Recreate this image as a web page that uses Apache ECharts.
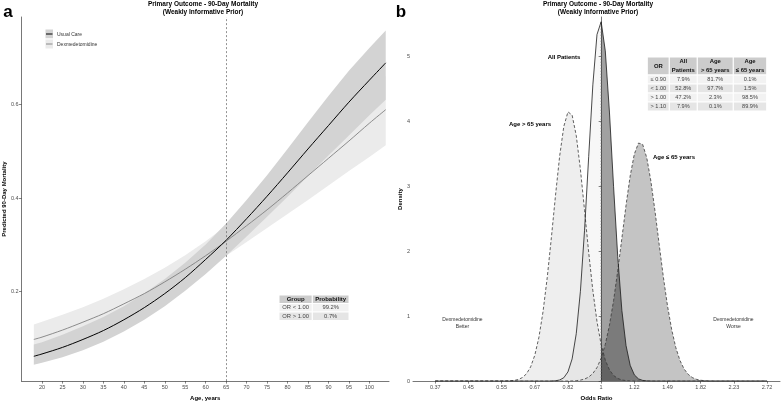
<!DOCTYPE html>
<html><head><meta charset="utf-8">
<script src="https://cdn.jsdelivr.net/npm/echarts@6/dist/echarts.min.js"></script>
<style>html,body{margin:0;padding:0;background:#fff}#c{width:784px;height:406px}</style>
</head><body><div id="c"></div>
<script>
// ---------- Panel a data ----------
const ages = [18,20,25,30,35,40,45,50,55,60,65,70,75,80,85,90,95,100,104];
const usualCare      = [0.062,0.067,0.081,0.098,0.117,0.140,0.166,0.196,0.230,0.269,0.310,0.356,0.404,0.454,0.505,0.555,0.605,0.652,0.689];
const usualCareLower = [0.044,0.048,0.060,0.075,0.093,0.115,0.140,0.169,0.202,0.238,0.277,0.318,0.360,0.403,0.447,0.491,0.534,0.577,0.610];
const usualCareUpper = [0.087,0.092,0.108,0.126,0.146,0.169,0.196,0.227,0.262,0.301,0.346,0.396,0.449,0.505,0.562,0.618,0.672,0.721,0.758];
const dexmed         = [0.098,0.103,0.118,0.135,0.153,0.174,0.196,0.221,0.248,0.277,0.308,0.341,0.375,0.411,0.448,0.485,0.522,0.560,0.589];
const dexmedLower    = [0.073,0.078,0.092,0.108,0.126,0.146,0.169,0.193,0.220,0.248,0.277,0.306,0.336,0.366,0.396,0.427,0.458,0.488,0.513];
const dexmedUpper    = [0.130,0.136,0.151,0.167,0.185,0.205,0.227,0.251,0.278,0.308,0.341,0.377,0.416,0.457,0.500,0.543,0.587,0.629,0.661];
const ageTicks = [20,25,30,35,40,45,50,55,60,65,70,75,80,85,90,95,100];
const mortalityTicks = [0.2,0.4,0.6];
const cutoffAge = 65;
const legendNames = ['Usual Care','Dexmedetomidine'];
const probHeader = ['Group','Probability'];
const probRows = [['OR < 1.00','99.2%'],['OR > 1.00','0.7%']];

// ---------- Panel b data (x = log odds ratio) ----------
const logOddsRatio = [-1,-0.6,-0.575,-0.55,-0.525,-0.5,-0.475,-0.45,-0.425,-0.4,-0.375,-0.35,-0.325,-0.3,-0.275,-0.25,-0.225,-0.2,-0.175,-0.15,-0.125,-0.1,-0.075,-0.05,-0.025,0,0.025,0.05,0.075,0.1,0.125,0.15,0.175,0.2,0.225,0.25,0.275,0.3,0.325,0.35,0.375,0.4,0.425,0.45,0.475,0.5,0.525,0.55,0.575,0.6,0.625,0.65,0.675,0.7,1];
const densityAll = [0, 0,0,0,0,0,0,0,0,0,0,0,0,
  0.001,0.005,0.017,0.052,0.142,0.341,0.729,1.381,2.321,3.454,4.557,5.330,5.527,5.080,4.138,2.989,1.914,1.085,0.546,0.243,0.096,0.034,0.011,0.003,0.001,
  0,0,0,0,0,0,0,0,0,0,0,0,0,0,0,0, 0];
const densityOlder = [0,
  0.001,0.002,0.004,0.010,0.024,0.054,0.112,0.219,0.397,0.675,1.073,1.591,2.206,2.858,3.462,3.917,4.141,4.091,3.776,3.257,2.626,1.977,1.392,0.915,0.562,0.323,0.173,0.087,0.041,0.018,0.007,0.003,0.001,
  0,0,0,0,0,0,0,0,0,0,0,0,0,0,0,0,0,0,0,0, 0];
const densityYounger = [0,
  0,0,0,0,0,0,0,0,0,0,0,0,0,0,0,0,
  0.001,0.003,0.007,0.015,0.031,0.062,0.117,0.208,0.352,0.565,0.859,1.240,1.696,2.199,2.705,3.156,3.491,3.661,3.642,3.435,3.073,2.607,2.097,1.600,1.157,0.794,0.516,0.318,0.186,0.103,0.054,0.027,0.013,0.006,0.002,0.001,0,
  0];
const orTickValues = [-1,-0.8,-0.6,-0.4,-0.2,0,0.2,0.4,0.6,0.8,1];
const orTickLabels = ['0.37','0.45','0.55','0.67','0.82','1','1.22','1.49','1.82','2.23','2.72'];
const densityTicks = [0,1,2,3,4,5];
const orTableHeader = ['OR','All\nPatients','Age\n> 65 years','Age\n\u2264 65 years'];
const orTableRows = [
  ['\u2264 0.90','7.9%','81.7%','0.1%'],
  ['< 1.00','52.8%','97.7%','1.5%'],
  ['> 1.00','47.2%','2.3%','98.5%'],
  ['> 1.10','7.9%','0.1%','89.9%']
];

// ---------- chart ----------
const FONT = '"Liberation Sans", Arial, sans-serif';
const chart = echarts.init(document.getElementById('c'), null, {renderer:'canvas'});

function band(lower, upper, color){
  return {
    type:'custom', xAxisIndex:0, yAxisIndex:0, silent:true,
    data: ages.map((a,i)=>[a, lower[i], upper[i]]),
    encode:{x:0, y:[1,2]},
    renderItem:(params, api)=>{
      if (params.dataIndex !== 0) return null;
      const pts = [];
      for (let i=0;i<ages.length;i++) pts.push(api.coord([ages[i], upper[i]]));
      for (let i=ages.length-1;i>=0;i--) pts.push(api.coord([ages[i], lower[i]]));
      return {type:'polygon', shape:{points:pts}, style:{fill:color}};
    }
  };
}
function pairs(arr, pred){
  return logOddsRatio.map((x,i)=>[x,arr[i]]).filter(p=>pred(p[0]));
}
function fill(arr, left, alpha){
  return {type:'line', xAxisIndex:1, yAxisIndex:1, silent:true, showSymbol:false, symbol:'none',
    data: pairs(arr, left ? (x=>x<=0) : (x=>x>=0)),
    lineStyle:{width:0}, areaStyle:{color:'rgba(0,0,0,'+alpha+')', opacity:1}};
}
function outline(arr, color, type){
  return {type:'line', xAxisIndex:1, yAxisIndex:1, silent:true, showSymbol:false, symbol:'none',
    data: pairs(arr, ()=>true), lineStyle:{width:0.8, color:color, type:type}};
}
function txt(x,y,text,size,bold,extra){
  return Object.assign({type:'text', x:x, y:y, silent:true, style:Object.assign({
    text:text, fill:'#000', fontSize:size, fontWeight:bold?'bold':'normal', fontFamily:FONT,
    align:'center', verticalAlign:'middle', lineHeight:size*1.5}, extra||{})});
}
function rect(x,y,w,h,color){
  return {type:'rect', silent:true, shape:{x:x,y:y,width:w,height:h}, style:{fill:color, stroke:'#fff', lineWidth:1}};
}

const axisCommon = {
  splitLine:{show:false},
  axisLine:{show:true, lineStyle:{color:'#555', width:0.8}},
  axisTick:{show:true, length:2.5, lineStyle:{color:'#333', width:0.6}},
};
const labelStyle = {color:'#4d4d4d', fontSize:5.5, fontFamily:FONT, margin:3};

const graphics = [];
// titles & panel letters
graphics.push(txt(203,4,'Primary Outcome - 90-Day Mortality',6.5,true));
graphics.push(txt(203,12.5,'(Weakly Informative Prior)',6.5,true));
graphics.push(txt(598,4,'Primary Outcome - 90-Day Mortality',6.5,true));
graphics.push(txt(598,12.5,'(Weakly Informative Prior)',6.5,true));
graphics.push(txt(8,12,'a',17,true));
graphics.push(txt(401,12,'b',17,true));
// legend
graphics.push(rect(45,29,8.5,10,'#d3d3d3'));
graphics.push(rect(45,39,8.5,10,'#ebebeb'));
graphics.push({type:'line', silent:true, shape:{x1:46,y1:34,x2:52.5,y2:34}, style:{stroke:'#000', lineWidth:1}});
graphics.push({type:'line', silent:true, shape:{x1:46,y1:44,x2:52.5,y2:44}, style:{stroke:'#808080', lineWidth:0.9}});
graphics.push(txt(57,34.5,legendNames[0],5,false,{align:'left', fill:'#333'}));
graphics.push(txt(57,44.5,legendNames[1],5,false,{align:'left', fill:'#333'}));
// left probability table
(function(){
  const cx=[279,312.3,349], ry=[295,303.5,312,320.5];
  const fills=['#cccccc','#f2f2f2','#e5e5e5'];
  const rows=[probHeader].concat(probRows);
  rows.forEach((r,ri)=>{
    r.forEach((t,ci)=>{
      graphics.push(rect(cx[ci],ry[ri],cx[ci+1]-cx[ci],ry[ri+1]-ry[ri],fills[ri]));
      graphics.push(txt((cx[ci]+cx[ci+1])/2,(ry[ri]+ry[ri+1])/2,t,ri===0?6:5.8,ri===0,{fill:ri===0?'#111':'#444'}));
    });
  });
})();
// right OR table
(function(){
  const cx=[647.3,669.3,697.3,733.3,766.7], ry=[57,75,84,93,102,111];
  const fills=['#cccccc','#f2f2f2','#e5e5e5','#f2f2f2','#e5e5e5'];
  const rows=[orTableHeader].concat(orTableRows);
  rows.forEach((r,ri)=>{
    r.forEach((t,ci)=>{
      graphics.push(rect(cx[ci],ry[ri],cx[ci+1]-cx[ci],ry[ri+1]-ry[ri],fills[ri]));
      graphics.push(txt((cx[ci]+cx[ci+1])/2,(ry[ri]+ry[ri+1])/2,t,ri===0?5.9:5.6,ri===0,{fill:ri===0?'#111':'#444', lineHeight:9}));
    });
  });
})();
// density annotations
graphics.push(txt(564,57.5,'All Patients',6,true));
graphics.push(txt(530,124.5,'Age > 65 years',6,true));
graphics.push(txt(674,157.5,'Age \u2264 65 years',6,true));
graphics.push(txt(462.5,323.5,'Dexmedetomidine\nBetter',5,false,{fill:'#333', lineHeight:6.8}));
graphics.push(txt(733.5,323.5,'Dexmedetomidine\nWorse',5,false,{fill:'#333', lineHeight:6.8}));

const zeroIdx = logOddsRatio.indexOf(0);

chart.setOption({
  animation:false,
  backgroundColor:'#fff',
  grid:[
    {left:17, right:395, top:17, bottom:17},
    {left:413, right:4, top:17, bottom:17}
  ],
  xAxis:[
    Object.assign({type:'value', gridIndex:0, min:15, max:104.8,
      name:'Age, years', nameLocation:'middle', nameGap:10,
      nameTextStyle:{fontSize:6, fontWeight:'bold', fontFamily:FONT, color:'#000'},
      axisLabel:Object.assign({customValues:ageTicks}, labelStyle)}, axisCommon,
      {axisTick:Object.assign({}, axisCommon.axisTick, {customValues:ageTicks})}),
    Object.assign({type:'value', gridIndex:1, min:-1.134, max:1.078,
      name:'Odds Ratio', nameLocation:'middle', nameGap:10,
      nameTextStyle:{fontSize:6, fontWeight:'bold', fontFamily:FONT, color:'#000'},
      axisLabel:Object.assign({customValues:orTickValues,
        formatter:(v)=>{const k=orTickValues.findIndex(t=>Math.abs(t-v)<1e-6); return k>=0?orTickLabels[k]:'';}}, labelStyle)}, axisCommon,
      {axisTick:Object.assign({}, axisCommon.axisTick, {customValues:orTickValues})})
  ],
  yAxis:[
    Object.assign({type:'value', gridIndex:0, min:0.009, max:0.787,
      name:'Predicted 90-Day Mortality', nameLocation:'middle', nameGap:11, nameRotate:90,
      nameTextStyle:{fontSize:6, fontWeight:'bold', fontFamily:FONT, color:'#000'},
      axisLabel:Object.assign({customValues:mortalityTicks, formatter:(v)=>v.toFixed(1)}, labelStyle)}, axisCommon,
      {axisTick:Object.assign({}, axisCommon.axisTick, {customValues:mortalityTicks})}),
    Object.assign({type:'value', gridIndex:1, min:0, max:5.6,
      name:'Density', nameLocation:'middle', nameGap:9, nameRotate:90,
      nameTextStyle:{fontSize:6, fontWeight:'bold', fontFamily:FONT, color:'#000'},
      axisLabel:Object.assign({customValues:densityTicks}, labelStyle)}, axisCommon,
      {axisTick:Object.assign({}, axisCommon.axisTick, {customValues:densityTicks})})
  ],
  graphic: graphics,
  series:[
    band(dexmedLower, dexmedUpper, '#ebebeb'),
    band(usualCareLower, usualCareUpper, '#d3d3d3'),
    {type:'line', xAxisIndex:0, yAxisIndex:0, silent:true, showSymbol:false, symbol:'none', smooth:0.3,
      data: ages.map((a,i)=>[a,dexmed[i]]), lineStyle:{color:'#808080', width:0.9}},
    {type:'line', xAxisIndex:0, yAxisIndex:0, silent:true, showSymbol:false, symbol:'none', smooth:0.3,
      data: ages.map((a,i)=>[a,usualCare[i]]), lineStyle:{color:'#000', width:1},
      markLine:{silent:true, symbol:'none', label:{show:false},
        lineStyle:{type:[2,2], color:'#666', width:0.7}, data:[{xAxis:cutoffAge}]}},
    fill(densityOlder, true, 0.065),
    fill(densityOlder, false, 0.2),
    fill(densityAll, true, 0.03),
    fill(densityAll, false, 0.37),
    fill(densityYounger, true, 0.065),
    fill(densityYounger, false, 0.23),
    {type:'line', xAxisIndex:1, yAxisIndex:1, silent:true, showSymbol:false, symbol:'none',
      data:[[0,0],[0,densityAll[zeroIdx]]], lineStyle:{type:[1.5,1.5], color:'#666', width:0.8}},
    outline(densityOlder, '#3a3a3a', [3,2]),
    outline(densityYounger, '#3a3a3a', [3,2]),
    outline(densityAll, '#1a1a1a', 'solid')
  ]
});
</script></body></html>
